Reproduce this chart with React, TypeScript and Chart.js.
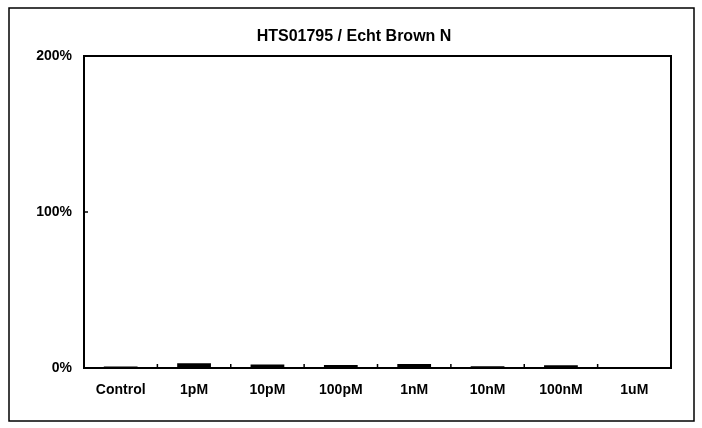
import React, { useEffect, useRef } from "react";
import { Chart, registerables } from "chart.js";

Chart.register(...registerables);

const titleText = "HTS01795 / Echt Brown N";
const categories = ["Control", "1pM", "10pM", "100pM", "1nM", "10nM", "100nM", "1uM"];
const values = [1.0, 3.0, 2.2, 2.0, 2.5, 1.2, 1.8, 0.4];
const yTicks = [0, 100, 200];

const FONT = "'Liberation Sans', Arial, sans-serif";

const framePlugin = {
  id: "framePlugin",
  afterDraw(chart: any) {
    const ctx = chart.ctx;
    const a = chart.chartArea;
    ctx.save();
    ctx.strokeStyle = "#000";
    // outer frame
    ctx.lineWidth = 1.5;
    ctx.strokeRect(9, 8, 685, 413);
    // title
    ctx.fillStyle = "#000";
    ctx.font = "bold 16px " + FONT;
    ctx.textAlign = "center";
    ctx.textBaseline = "middle";
    ctx.fillText(titleText, 354, 37);
    // plot box
    ctx.lineWidth = 2;
    ctx.strokeRect(a.left, a.top, a.right - a.left, a.bottom - a.top);
    // inward ticks on x axis at category boundaries
    const xs = chart.scales.x;
    ctx.lineWidth = 1.5;
    for (let i = 0; i < categories.length - 1; i++) {
      const b = (xs.getPixelForTick(i) + xs.getPixelForTick(i + 1)) / 2;
      ctx.beginPath();
      ctx.moveTo(b, a.bottom);
      ctx.lineTo(b, a.bottom - 4);
      ctx.stroke();
    }
    // inward ticks on y axis
    const ys = chart.scales.y;
    yTicks.forEach((v) => {
      const y = ys.getPixelForValue(v);
      ctx.beginPath();
      ctx.moveTo(a.left, y);
      ctx.lineTo(a.left + 4, y);
      ctx.stroke();
    });
    ctx.restore();
  },
};

export default function App() {
  const ref = useRef<HTMLCanvasElement | null>(null);
  useEffect(() => {
    if (!ref.current) return;
    const chart = new Chart(ref.current, {
      type: "bar",
      data: {
        labels: categories,
        datasets: [
          {
            data: values,
            backgroundColor: "#000",
            borderWidth: 0,
            barPercentage: 0.46,
            categoryPercentage: 1,
          },
        ],
      },
      options: {
        animation: false,
        responsive: false,
        layout: { padding: { left: 0, right: 31, top: 56, bottom: 0 } },
        plugins: {
          legend: { display: false },
          tooltip: { enabled: false },
          title: { display: false },
        },
        scales: {
          x: {
            grid: { display: false, drawTicks: false },
            border: { display: false },
            ticks: {
              color: "#000",
              font: { family: FONT, size: 14, weight: "bold" },
              padding: 14,
              maxRotation: 0,
              autoSkip: false,
            },
            afterFit: (s: any) => {
              s.height = 60;
            },
          },
          y: {
            min: 0,
            max: 200,
            grid: { display: false, drawTicks: false },
            border: { display: false },
            ticks: {
              stepSize: 100,
              color: "#000",
              font: { family: FONT, size: 14, weight: "bold" },
              padding: 12,
              callback: (v: any) => v + "%",
            },
            afterFit: (s: any) => {
              s.width = 84;
            },
          },
        },
      },
      plugins: [framePlugin],
    });
    return () => chart.destroy();
  }, []);
  return (
    <div style={{ position: "absolute", left: 0, top: 0, width: 702, height: 428, background: "#fff" }}>
      <canvas ref={ref} width={702} height={428} style={{ display: "block", width: 702, height: 428 }} />
    </div>
  );
}
